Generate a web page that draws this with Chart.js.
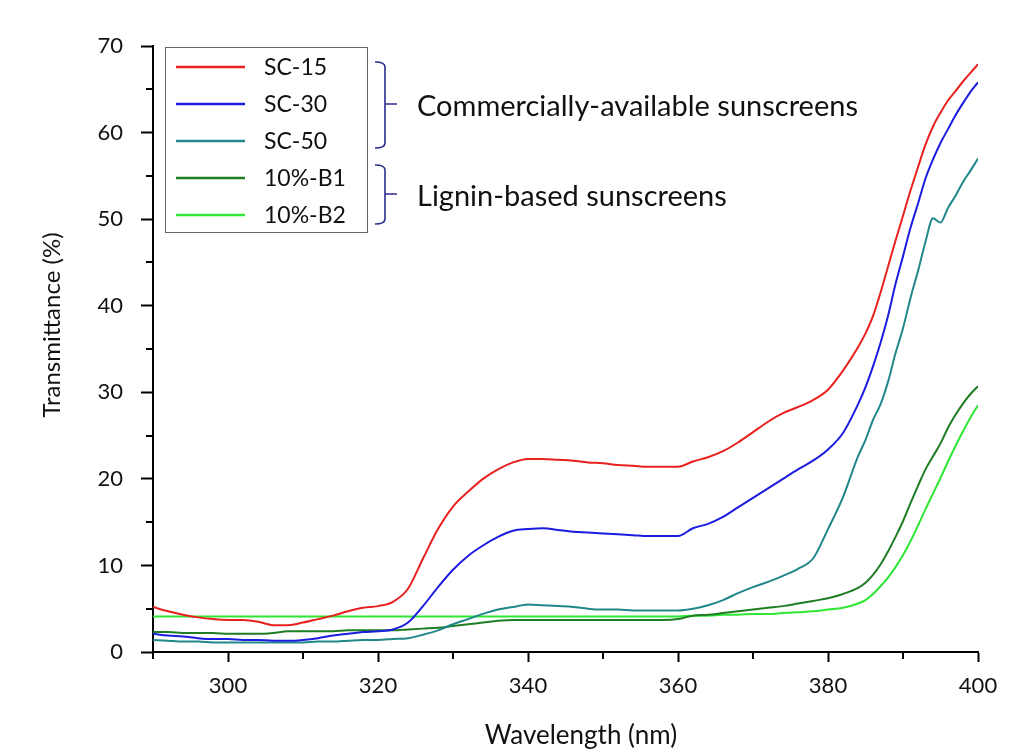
<!DOCTYPE html>
<html>
<head>
<meta charset="utf-8">
<script src="https://cdn.jsdelivr.net/npm/chart.js@4.4.1/dist/chart.umd.min.js"></script>
<style>
  html, body { margin: 0; padding: 0; background: #fff; }
</style>
</head>
<body>
<canvas id="chart" width="1016" height="754"></canvas>
<script>
const FONT = 'Lato, "Open Sans", sans-serif'

// wavelength grid (nm)
const wavelengths = [
  290, 292, 294, 296, 298, 300, 302, 304, 306, 308,
  310, 312, 314, 316, 318, 320, 322, 324, 326, 328,
  330, 332, 334, 336, 338, 340, 342, 344, 346, 348,
  350, 352, 354, 356, 358, 360, 362, 364, 366, 368,
  370, 372, 374, 376, 378, 380, 382, 384,
  385, 386, 387, 388, 389, 390, 391, 392,
  393, 394, 395, 396, 397, 398, 399, 400
]

// transmittance (%) per sample
const sc15 = [
  5.2, 4.7, 4.3, 4.0, 3.8, 3.7, 3.7, 3.5, 3.1, 3.1,
  3.4, 3.8, 4.2, 4.7, 5.1, 5.3, 5.8, 7.3, 10.8, 14.2,
  16.8, 18.5, 20.0, 21.1, 21.9, 22.3, 22.3, 22.2, 22.1, 21.9,
  21.8, 21.6, 21.5, 21.4, 21.4, 21.4, 22.0, 22.5, 23.2, 24.2,
  25.4, 26.6, 27.6, 28.3, 29.1, 30.3, 32.5, 35.2,
  36.8, 38.8, 41.5, 44.5, 47.5, 50.4, 53.3, 56.0,
  58.6, 60.7, 62.3, 63.7, 64.8, 65.9, 66.9, 67.9
]
const sc30 = [
  2.1, 1.9, 1.8, 1.6, 1.5, 1.5, 1.4, 1.4, 1.3, 1.3,
  1.4, 1.6, 1.9, 2.1, 2.3, 2.4, 2.6, 3.4, 5.3, 7.5,
  9.5, 11.1, 12.3, 13.3, 14.0, 14.2, 14.3, 14.1, 13.9, 13.8,
  13.7, 13.6, 13.5, 13.4, 13.4, 13.4, 14.3, 14.8, 15.6, 16.7,
  17.8, 18.9, 20.0, 21.1, 22.1, 23.4, 25.3, 28.6,
  30.6, 33.0, 35.7, 38.8, 42.5, 45.7, 49.0, 51.8,
  54.7, 56.9, 58.8, 60.4, 62.0, 63.4, 64.7, 65.8
]
const sc50 = [
  1.4, 1.3, 1.2, 1.2, 1.1, 1.1, 1.1, 1.1, 1.1, 1.1,
  1.1, 1.2, 1.2, 1.3, 1.4, 1.4, 1.5, 1.6, 2.0, 2.5,
  3.2, 3.8, 4.4, 4.9, 5.2, 5.5, 5.4, 5.3, 5.2, 5.0,
  4.9, 4.9, 4.8, 4.8, 4.8, 4.8, 5.0, 5.4, 6.0, 6.8,
  7.5, 8.1, 8.8, 9.6, 10.8, 14.2, 17.9, 22.6,
  24.5, 26.8, 28.6, 31.2, 34.5, 37.4, 40.9, 44.0,
  47.4, 50.1, 49.6, 51.3, 52.7, 54.3, 55.6, 57.0
]
const b1 = [
  2.3, 2.3, 2.2, 2.2, 2.2, 2.1, 2.1, 2.1, 2.2, 2.4,
  2.4, 2.4, 2.4, 2.5, 2.5, 2.5, 2.5, 2.6, 2.7, 2.8,
  3.0, 3.2, 3.4, 3.6, 3.7, 3.7, 3.7, 3.7, 3.7, 3.7,
  3.7, 3.7, 3.7, 3.7, 3.7, 3.8, 4.2, 4.3, 4.5, 4.7,
  4.9, 5.1, 5.3, 5.6, 5.9, 6.2, 6.7, 7.4,
  8.0, 8.9, 10.1, 11.6, 13.3, 15.1, 17.2, 19.2,
  21.1, 22.6, 24.1, 25.9, 27.4, 28.7, 29.8, 30.7
]
const b2 = [
  4.1, 4.1, 4.1, 4.1, 4.1, 4.1, 4.1, 4.1, 4.1, 4.1,
  4.1, 4.1, 4.1, 4.1, 4.1, 4.1, 4.1, 4.1, 4.1, 4.1,
  4.1, 4.1, 4.1, 4.1, 4.1, 4.1, 4.1, 4.1, 4.1, 4.1,
  4.1, 4.1, 4.1, 4.1, 4.1, 4.1, 4.2, 4.2, 4.3, 4.3,
  4.4, 4.4, 4.5, 4.6, 4.7, 4.9, 5.1, 5.6,
  6.0, 6.7, 7.6, 8.6, 9.8, 11.2, 12.8, 14.6,
  16.5, 18.3, 20.1, 22.0, 23.8, 25.5, 27.1, 28.5
]

const seriesNames = ['SC-15', 'SC-30', 'SC-50', '10%-B1', '10%-B2']
const seriesColors = ['#e8211f', '#1c1ce0', '#21878a', '#1f7d24', '#2ee633']
const seriesValues = [sc15, sc30, sc50, b1, b2]

const xTicks = [290, 400, 10]  // min, max, step
const yTicks = [0, 70, 5]

const toPoints = vals => wavelengths.map((w, i) => ({x: w, y: vals[i]}))

// legend, brackets, axis titles, minor ticks
const extras = {
  id: 'extras',
  afterDraw(chart) {
    const ctx = chart.ctx
    const xs = chart.scales.x
    const ys = chart.scales.y
    ctx.save()

    // minor ticks
    ctx.strokeStyle = '#000'
    ctx.lineWidth = 2
    for (let v = 290; v < 400; v += 20) {
      const px = Math.round(xs.getPixelForValue(v))
      ctx.beginPath(); ctx.moveTo(px, xs.top); ctx.lineTo(px, xs.top + 7); ctx.stroke()
    }
    for (let v = 5; v < 70; v += 10) {
      const py = Math.round(ys.getPixelForValue(v))
      ctx.beginPath(); ctx.moveTo(ys.right - 7, py); ctx.lineTo(ys.right, py); ctx.stroke()
    }

    // axis titles
    ctx.fillStyle = '#111'
    ctx.textAlign = 'center'
    ctx.textBaseline = 'middle'
    ctx.font = '26px ' + FONT
    ctx.fillText('Wavelength (nm)', 581, 736)
    ctx.save()
    ctx.translate(52, 325)
    ctx.rotate(-Math.PI / 2)
    ctx.font = '24px ' + FONT
    ctx.fillText('Transmittance (%)', 0, 0)
    ctx.restore()

    // legend box
    ctx.fillStyle = '#fff'
    ctx.fillRect(165, 47, 202, 185)
    ctx.strokeStyle = '#666'
    ctx.lineWidth = 1
    ctx.strokeRect(165.5, 47.5, 202, 185)
    ctx.font = '23px ' + FONT
    ctx.textAlign = 'left'
    chart.data.datasets.forEach((ds, i) => {
      const y = 67 + i * 37
      ctx.strokeStyle = ds.borderColor
      ctx.lineWidth = 2.5
      ctx.beginPath(); ctx.moveTo(176, y); ctx.lineTo(245, y); ctx.stroke()
      ctx.fillStyle = '#111'
      ctx.fillText(ds.label, 264, y + 1)
    })

    // group brackets
    ctx.strokeStyle = '#2b2b8e'
    ctx.lineWidth = 1.6
    const bracket = (t, b, m) => {
      ctx.beginPath()
      ctx.moveTo(375, t)
      ctx.quadraticCurveTo(385, t, 385, t + 5)
      ctx.lineTo(385, b - 5)
      ctx.quadraticCurveTo(385, b, 375, b)
      ctx.moveTo(385, m)
      ctx.lineTo(397, m)
      ctx.stroke()
    }
    bracket(62, 148, 104)
    bracket(165, 224, 194)

    ctx.fillStyle = '#111'
    ctx.font = '29px ' + FONT
    ctx.fillText('Commercially-available sunscreens', 417, 107)
    ctx.fillText('Lignin-based sunscreens', 417, 197)
    ctx.restore()
  }
}

new Chart(document.getElementById('chart'), {
  type: 'line',
  data: {
    datasets: seriesNames.map((name, i) => ({
      label: name,
      data: toPoints(seriesValues[i]),
      borderColor: seriesColors[i],
      borderWidth: 2,
      pointRadius: 0,
      cubicInterpolationMode: 'monotone',
      fill: false
    }))
  },
  options: {
    responsive: false,
    devicePixelRatio: 1,
    animation: false,
    layout: {padding: {top: 46, right: 38, left: 0, bottom: 0}},
    plugins: {legend: {display: false}, tooltip: {enabled: false}},
    scales: {
      x: {
        type: 'linear',
        min: xTicks[0], max: xTicks[1],
        afterFit: s => { s.height = 102 },
        border: {color: '#000', width: 2},
        grid: {
          drawOnChartArea: false,
          tickLength: 10,
          tickWidth: 2,
          tickColor: c => (c.tick && c.tick.value % 20 === 0) ? '#000' : 'rgba(0,0,0,0)'
        },
        ticks: {
          stepSize: xTicks[2],
          autoSkip: false,
          maxRotation: 0,
          padding: 11,
          color: '#111',
          font: {family: FONT, size: 22},
          callback: v => v % 20 === 0 ? v : ''
        }
      },
      y: {
        min: yTicks[0], max: yTicks[1],
        afterFit: s => { s.width = 153 },
        border: {color: '#000', width: 2},
        grid: {
          drawOnChartArea: false,
          tickLength: 12,
          tickWidth: 2,
          tickColor: c => (c.tick && c.tick.value % 10 === 0) ? '#000' : 'rgba(0,0,0,0)'
        },
        ticks: {
          stepSize: yTicks[2],
          autoSkip: false,
          padding: 18,
          color: '#111',
          font: {family: FONT, size: 22},
          callback: v => v % 10 === 0 ? v : ''
        }
      }
    }
  },
  plugins: [extras]
})
</script>
</body>
</html>
